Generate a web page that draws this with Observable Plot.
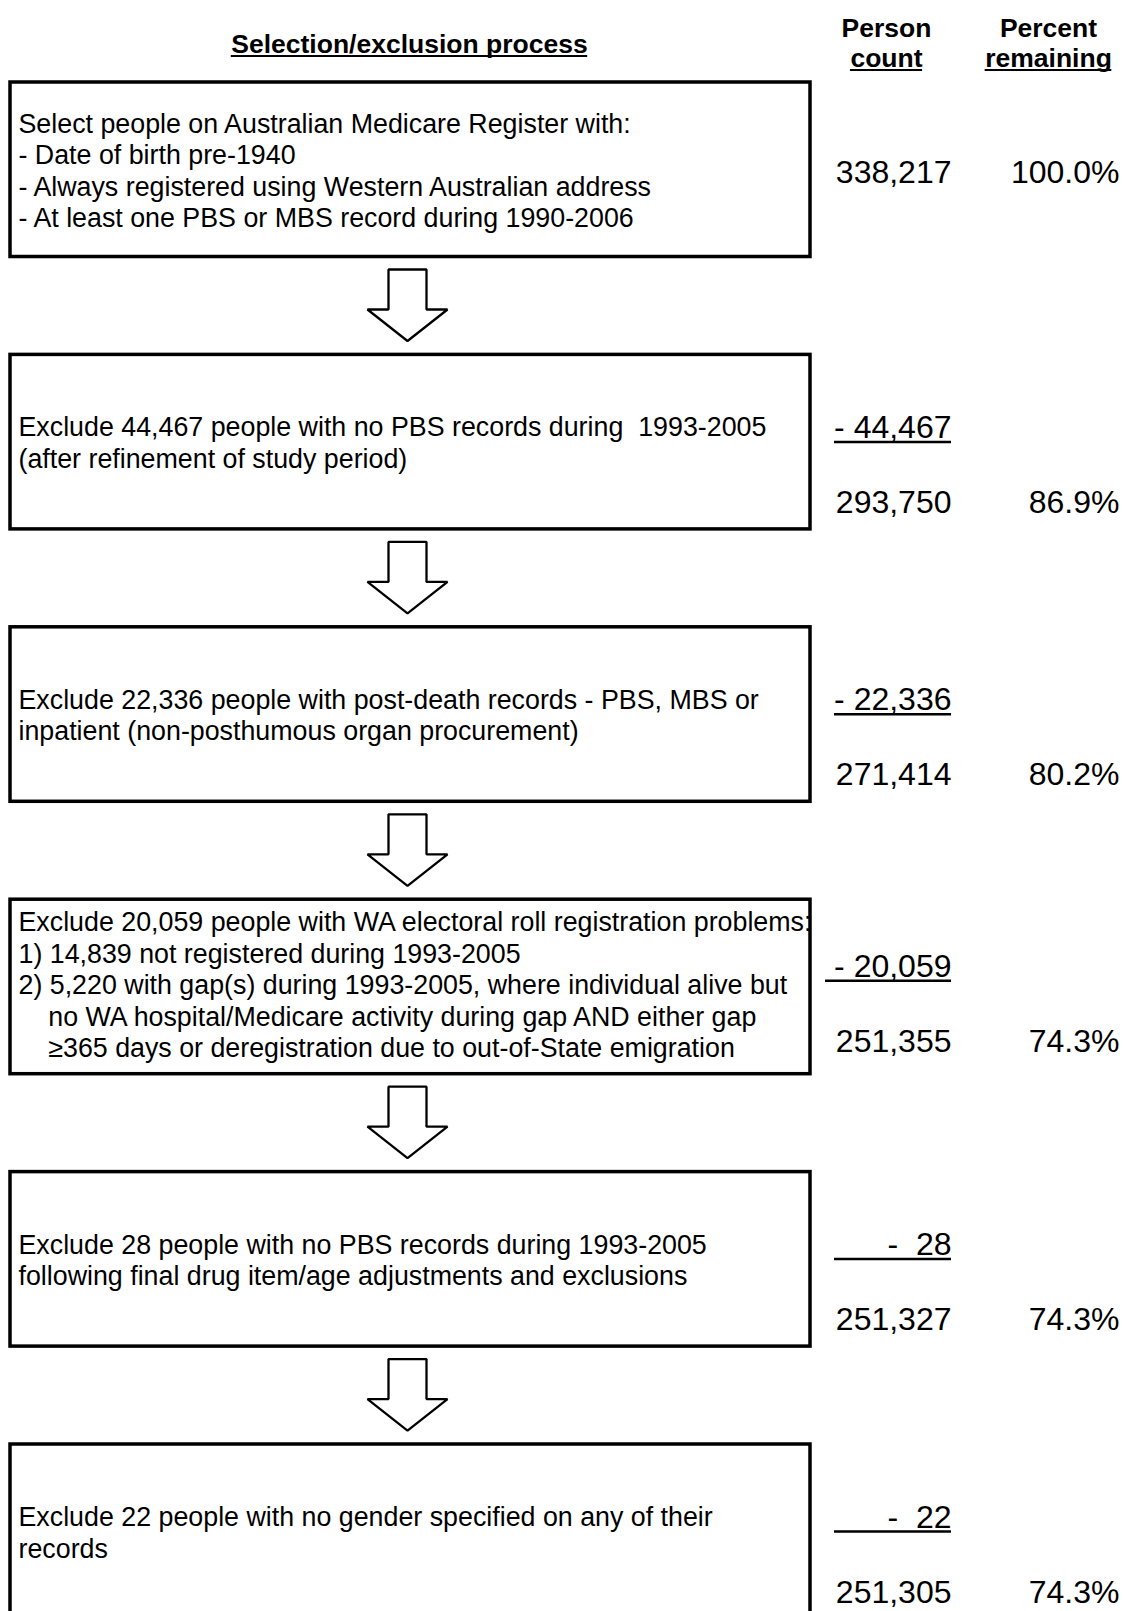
<!DOCTYPE html>
<html>
<head>
<meta charset="utf-8">
<script src="https://cdn.jsdelivr.net/npm/d3@7"></script>
<script src="https://cdn.jsdelivr.net/npm/@observablehq/plot@0.6"></script>
<style>
  html, body { margin: 0; padding: 0; background: #fff; overflow: hidden; }
  #chart svg { display: block; font-family: "Liberation Sans", Arial, sans-serif; }
</style>
</head>
<body>
<div id="chart"></div>
<script>
// ---------------- data ----------------
const stepTexts = [
  "Select people on Australian Medicare Register with:\n- Date of birth pre-1940\n- Always registered using Western Australian address\n- At least one PBS or MBS record during 1990-2006",
  "Exclude 44,467 people with no PBS records during  1993-2005\n(after refinement of study period)",
  "Exclude 22,336 people with post-death records - PBS, MBS or\ninpatient (non-posthumous organ procurement)",
  "Exclude 20,059 people with WA electoral roll registration problems:\n1) 14,839 not registered during 1993-2005\n2) 5,220 with gap(s) during 1993-2005, where individual alive but\n\u00a0\u00a0\u00a0\u00a0no WA hospital/Medicare activity during gap AND either gap\n\u00a0\u00a0\u00a0\u00a0\u2265365 days or deregistration due to out-of-State emigration",
  "Exclude 28 people with no PBS records during 1993-2005\nfollowing final drug item/age adjustments and exclusions",
  "Exclude 22 people with no gender specified on any of their\nrecords"
];
const excludedCounts = [null, 44467, 22336, 20059, 28, 22];
const remainingCounts = [338217, 293750, 271414, 251355, 251327, 251305];
const percentRemaining = [100.0, 86.9, 80.2, 74.3, 74.3, 74.3];
const headerTopLines = ["", "Person", "Percent"];
const headerBottomLines = ["Selection/exclusion process", "count", "remaining"];

// ---------------- layout ----------------
const W = 1123, H = 1611;
const FONT = "'Liberation Sans', Arial, sans-serif";
const boxX1 = 10, boxX2 = 810;
const firstTop = 82, pitch = 272.4, boxH = 174.5;
const textX = 18;
const countRight = 951, percentRight = 1119;
const underlineX1 = 834, underlineX1Wide = 825;
const shaftHalf = 19, headHalf = 40, arrowCx = 407;
const headerSize = 26.5, bodySize = 26.8, numberSize = 32;

const fmtCount = d3.format(",");
const fmtPct = d3.format(".1f");

const steps = stepTexts.map((text, i) => {
  const top = firstTop + i * pitch;
  const bottom = top + boxH;
  const nLines = text.split("\n").length;
  const tall = nLines >= 5;
  const exc = excludedCounts[i];
  const excY = top + (tall ? 77 : 83);
  const remY = exc == null ? (top + bottom) / 2 + 13 : top + (tall ? 152 : 158);
  return {
    i, text, top, bottom, nLines,
    exc,
    excLabel: exc == null ? null : "-\u00a0" + (exc < 100 ? "\u00a0" : "") + fmtCount(exc),
    excY,
    ulX1: tall ? underlineX1Wide : underlineX1,
    remLabel: fmtCount(remainingCounts[i]),
    pctLabel: fmtPct(percentRemaining[i]) + "%",
    remY,
    textY: (top + bottom) / 2 + (tall ? -3 : 0)
  };
});

const excSteps = steps.filter(d => d.exc != null);

// arrows between consecutive boxes
const arrowPts = [];
for (let i = 0; i < steps.length - 1; i++) {
  const b = steps[i].bottom;
  const t0 = b + 12.5, sh = b + 52.5, tip = b + 84;
  [[arrowCx - shaftHalf, t0], [arrowCx + shaftHalf, t0], [arrowCx + shaftHalf, sh],
   [arrowCx + headHalf, sh], [arrowCx, tip], [arrowCx - headHalf, sh], [arrowCx - shaftHalf, sh]]
    .forEach(([x, y]) => arrowPts.push({arrow: i, x, y}));
}

// header text + underline extents measured from the font
const ctx = document.createElement("canvas").getContext("2d");
ctx.font = `bold ${headerSize}px ${FONT}`;
const headerCols = [
  {x: (boxX1 + boxX2) / 2 - 1, top: headerTopLines[0], bottom: headerBottomLines[0], yb: 52},
  {x: 886, top: headerTopLines[1], bottom: headerBottomLines[1], yb: 66},
  {x: 1048, top: headerTopLines[2], bottom: headerBottomLines[2], yb: 66}
].map(d => {
  const w = ctx.measureText(d.bottom).width;
  return {...d, ux1: d.x - w / 2, ux2: d.x + w / 2};
});

const chart = Plot.plot({
  width: W,
  height: H,
  margin: 0,
  x: {domain: [0, W], range: [0, W], axis: null},
  y: {domain: [0, H], range: [0, H], axis: null},
  style: {fontFamily: FONT, background: "#fff", color: "#000"},
  marks: [
    // boxes
    Plot.rect(steps, {x1: () => boxX1, x2: () => boxX2, y1: "top", y2: "bottom",
      fill: "white", stroke: "black", strokeWidth: 3.5}),
    // arrows
    Plot.line(arrowPts, {x: "x", y: "y", z: "arrow", curve: "linear-closed",
      fill: "white", stroke: "black", strokeWidth: 2.3, strokeLinejoin: "miter"}),
    // box texts
    Plot.text(steps, {x: () => textX, y: "textY", text: "text", textAnchor: "start",
      lineAnchor: "middle", fontSize: bodySize, lineHeight: 31.5 / bodySize, fill: "black"}),
    // excluded counts (underlined)
    Plot.text(excSteps, {x: () => countRight, y: "excY", text: "excLabel", textAnchor: "end",
      lineAnchor: "bottom", fontSize: numberSize, fill: "black"}),
    Plot.ruleY(excSteps, {y: d => d.excY + 4, x1: "ulX1", x2: () => countRight,
      stroke: "black", strokeWidth: 2.5}),
    // remaining counts and percents
    Plot.text(steps, {x: () => countRight, y: "remY", text: "remLabel", textAnchor: "end",
      lineAnchor: "bottom", fontSize: numberSize, fill: "black"}),
    Plot.text(steps, {x: () => percentRight, y: "remY", text: "pctLabel", textAnchor: "end",
      lineAnchor: "bottom", fontSize: numberSize, fill: "black"}),
    // headers
    Plot.text(headerCols, {x: "x", y: d => d.yb - 30, text: "top", lineAnchor: "bottom",
      fontSize: headerSize, fontWeight: "bold", fill: "black"}),
    Plot.text(headerCols, {x: "x", y: "yb", text: "bottom", lineAnchor: "bottom",
      fontSize: headerSize, fontWeight: "bold", fill: "black"}),
    Plot.ruleY(headerCols, {y: d => d.yb + 3.5, x1: "ux1", x2: "ux2", stroke: "black", strokeWidth: 2})
  ]
});

document.getElementById("chart").appendChild(chart);
</script>
</body>
</html>
